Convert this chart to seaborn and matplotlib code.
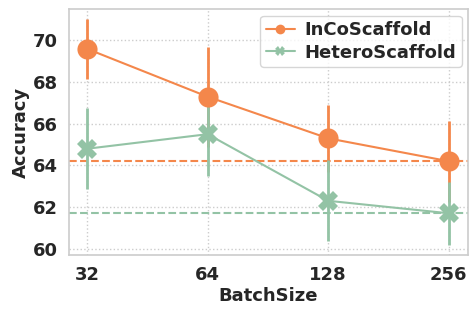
import matplotlib
matplotlib.use('Agg')
import matplotlib.pyplot as plt
import numpy as np
import pandas as pd
import seaborn as sns


# Values
batch_sizes = ['32', '64', '128', '256']
inco_acc = [69.6, 67.3, 65.3, 64.2]
inco_err = [1.45, 2.4, 1.6, 1.95]
hetero_acc = [64.8, 65.5, 62.3, 61.7]
hetero_err = [1.95, 2.0, 1.95, 1.5]

orange = '#f4874b'
green = '#93c3a5'

sns.set_theme(style='whitegrid')
plt.rcParams['font.family'] = ['DejaVu Sans']
plt.rcParams['font.weight'] = 'bold'
plt.rcParams['axes.labelweight'] = 'bold'

df = pd.DataFrame({
    'pos': list(range(len(batch_sizes))) * 2,
    'acc': inco_acc + hetero_acc,
    'err': inco_err + hetero_err,
    'model': ['InCoScaffold'] * 4 + ['HeteroScaffold'] * 4,
})

fig, ax = plt.subplots(figsize=(4.69, 3.09), dpi=100)

series = [('InCoScaffold', orange), ('HeteroScaffold', green)]
for name, col in series:
    sub = df[df['model'] == name]
    ax.errorbar(sub['pos'], sub['acc'], yerr=sub['err'], fmt='none',
                ecolor=col, elinewidth=2, zorder=2)
    ax.axhline(sub['acc'].iloc[-1], color=col, ls='--', lw=1.5, zorder=1)

sns.lineplot(data=df, x='pos', y='acc', hue='model', style='model',
             palette=[orange, green], markers=['o', 'X'], dashes=False,
             markersize=14.5, markeredgewidth=0, linewidth=1.5, ax=ax,
             zorder=3)

ax.set_xticks(range(len(batch_sizes)))
ax.set_xticklabels(batch_sizes)
ax.set_xlim(-0.15, 3.16)
ax.set_ylim(59.7, 71.5)
ax.set_yticks([60, 62, 64, 66, 68, 70])
ax.tick_params(labelsize=13, pad=2)
for lbl in ax.get_xticklabels() + ax.get_yticklabels():
    lbl.set_fontweight('bold')
ax.set_xlabel('BatchSize', fontsize=13, fontweight='bold', labelpad=2)
ax.set_ylabel('Accuracy', fontsize=13, fontweight='bold', labelpad=2)
ax.grid(True, ls=':', lw=1, color='#cccccc')
for s in ax.spines.values():
    s.set_color('#cccccc')
    s.set_linewidth(1.2)

handles, labels = ax.get_legend_handles_labels()
for h in handles:
    h.set_markersize(7)
ax.legend(handles, labels, loc='upper right',
          prop={'weight': 'bold', 'size': 13}, borderpad=0.3,
          handletextpad=0.55, labelspacing=0.25, handlelength=1.6,
          borderaxespad=0.35)

fig.subplots_adjust(left=0.147, right=0.998, top=0.97, bottom=0.175)
fig.savefig('out.png', dpi=100)
